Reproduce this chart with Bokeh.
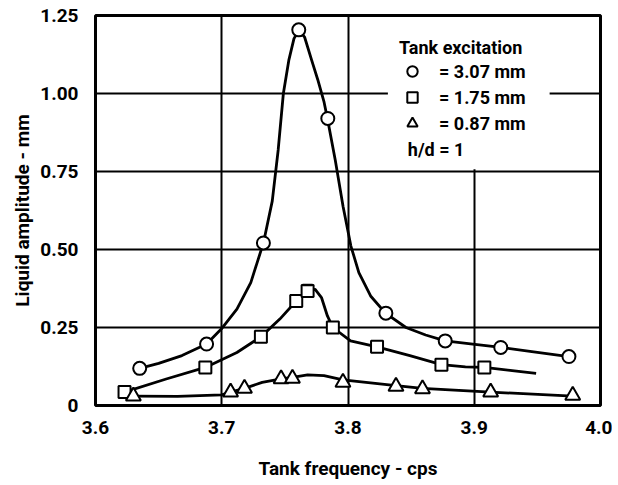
from bokeh.plotting import figure
from bokeh.models import Range1d, FixedTicker, BoxAnnotation, Legend, LegendItem, Label
from bokeh.embed import file_html
from bokeh.resources import INLINE

# ---- data ----
# Tank excitation 3.07 mm (circles)
c_x = [3.635, 3.688, 3.733, 3.761, 3.784, 3.830, 3.877, 3.921, 3.975]
c_y = [0.119, 0.197, 0.521, 1.204, 0.920, 0.296, 0.207, 0.186, 0.157]
# Tank excitation 1.75 mm (squares)
s_x = [3.623, 3.687, 3.731, 3.759, 3.768, 3.788, 3.823, 3.874, 3.908]
s_y = [0.043, 0.122, 0.220, 0.335, 0.367, 0.250, 0.188, 0.131, 0.122]
# small bar drawn above the peak square
sbar_x = [3.768]
sbar_y = [0.386]
# Tank excitation 0.87 mm (triangles)
t_x = [3.630, 3.707, 3.718, 3.747, 3.756, 3.796, 3.838, 3.859, 3.913, 3.978]
t_y = [0.030, 0.043, 0.055, 0.085, 0.087, 0.074, 0.061, 0.053, 0.043, 0.032]

# faired curves
cc_x = [3.635, 3.650, 3.6685, 3.688, 3.6996, 3.712, 3.723, 3.733, 3.740, 3.7447, 3.7488,
        3.7531, 3.7572, 3.7612, 3.7656, 3.7712, 3.7760, 3.7809, 3.7837, 3.7899, 3.7961,
        3.8023, 3.8086, 3.8179, 3.8297, 3.8459, 3.8615, 3.877, 3.8988, 3.9213, 3.9456, 3.975]
cc_y = [0.119, 0.135, 0.160, 0.197, 0.245, 0.309, 0.394, 0.521, 0.655, 0.819, 1.000,
        1.106, 1.176, 1.204, 1.181, 1.107, 1.045, 0.975, 0.920, 0.787, 0.638,
        0.511, 0.426, 0.351, 0.296, 0.250, 0.226, 0.207, 0.197, 0.186, 0.173, 0.157]
sc_x = [3.623, 3.656, 3.687, 3.712, 3.731, 3.746, 3.759, 3.768, 3.774, 3.779, 3.7837,
        3.788, 3.802, 3.823, 3.849, 3.874, 3.893, 3.908, 3.930, 3.949]
sc_y = [0.043, 0.085, 0.122, 0.170, 0.220, 0.277, 0.335, 0.367, 0.372, 0.346, 0.287,
        0.250, 0.207, 0.188, 0.160, 0.131, 0.124, 0.122, 0.112, 0.103]
tc_x = [3.630, 3.665, 3.700, 3.707, 3.718, 3.732, 3.747, 3.756, 3.768, 3.781, 3.796,
        3.838, 3.859, 3.913, 3.978]
tc_y = [0.030, 0.029, 0.034, 0.043, 0.055, 0.074, 0.085, 0.090, 0.098, 0.096, 0.082,
        0.064, 0.055, 0.043, 0.030]

x_ticks = [3.6, 3.7, 3.8, 3.9, 4.0]
x_labels = ["3.6", "3.7", "3.8", "3.9", "4.0"]
y_ticks = [0, 0.25, 0.5, 0.75, 1.0, 1.25]
y_labels = ["0", "0.25", "0.50", "0.75", "1.00", "1.25"]

FONT = "Roboto"

p = figure(width=612, height=484, output_backend="svg", toolbar_location=None,
           x_range=Range1d(3.6, 4.0), y_range=Range1d(0, 1.25),
           min_border_left=95, min_border_right=12, min_border_top=15, min_border_bottom=79)

p.outline_line_color = "black"
p.outline_line_width = 3
p.background_fill_color = "white"

# grid
p.xgrid.ticker = FixedTicker(ticks=[3.7, 3.8, 3.9])
p.ygrid.ticker = FixedTicker(ticks=[0.25, 0.5, 0.75, 1.0])
for g in (p.xgrid[0], p.ygrid[0]):
    g.grid_line_color = "black"
    g.grid_line_width = 2
    g.grid_line_alpha = 1

# axes
p.xaxis.ticker = FixedTicker(ticks=x_ticks)
p.xaxis.major_label_overrides = dict(zip(x_ticks, x_labels))
p.yaxis.ticker = FixedTicker(ticks=y_ticks)
p.yaxis.major_label_overrides = dict(zip(y_ticks, y_labels))
for ax in (p.xaxis[0], p.yaxis[0]):
    ax.axis_line_color = None
    ax.major_tick_line_color = None
    ax.minor_tick_line_color = None
    ax.major_tick_out = 0
    ax.major_tick_in = 0
    ax.major_label_text_font = FONT
    ax.major_label_text_font_size = "19px"
    ax.major_label_text_font_style = "bold"
    ax.major_label_text_color = "black"
    ax.axis_label_text_font = FONT
    ax.axis_label_text_font_size = "19px"
    ax.axis_label_text_font_style = "bold"
    ax.axis_label_text_color = "black"
p.xaxis.axis_label = "Tank frequency - cps"
p.yaxis.axis_label = "Liquid amplitude - mm"
p.xaxis.major_label_standoff = 15
p.yaxis.major_label_standoff = 17
p.xaxis.axis_label_standoff = 20
p.yaxis.axis_label_standoff = 3

# curves
for xs, ys in ((cc_x, cc_y), (sc_x, sc_y), (tc_x, tc_y)):
    p.line(xs, ys, line_color="black", line_width=2.8, line_join="round")

# markers
r_c = p.scatter(c_x, c_y, marker="circle", size=13, fill_color="white",
                line_color="black", line_width=2)
r_s = p.scatter(s_x, s_y, marker="square", size=12, fill_color="white",
                line_color="black", line_width=2)
r_t = p.scatter(t_x, t_y, marker="triangle", size=15, fill_color="white",
                line_color="black", line_width=2)
p.scatter(sbar_x, sbar_y, marker="dash", size=10, line_color="black", line_width=2.5)

# white area behind the key
p.add_layout(BoxAnnotation(left=3.8316, right=3.9597, bottom=0.757, top=1.245,
                           fill_color="white", fill_alpha=1, line_color=None))

legend = Legend(items=[LegendItem(label="= 3.07 mm", renderers=[r_c]),
                       LegendItem(label="= 1.75 mm", renderers=[r_s]),
                       LegendItem(label="= 0.87 mm", renderers=[r_t])],
                title="Tank excitation", location=(304, 269))
legend.background_fill_alpha = 0
legend.border_line_color = None
legend.padding = 0
legend.margin = 0
legend.spacing = -3
legend.glyph_width = 26
legend.glyph_height = 26
legend.label_height = 20
legend.label_standoff = 14
legend.label_text_font = FONT
legend.label_text_font_size = "18px"
legend.label_text_font_style = "bold"
legend.label_text_color = "black"
legend.title_text_font = FONT
legend.title_text_font_size = "18px"
legend.title_text_font_style = "bold"
legend.title_text_color = "black"
legend.title_standoff = 0
p.add_layout(legend)

p.add_layout(Label(x=3.8474, y=0.8205, text="h/d = 1", text_font=FONT,
                   text_font_size="18px", text_font_style="bold",
                   text_baseline="middle", text_color="black"))

open("out.html", "w").write(file_html(p, INLINE))
